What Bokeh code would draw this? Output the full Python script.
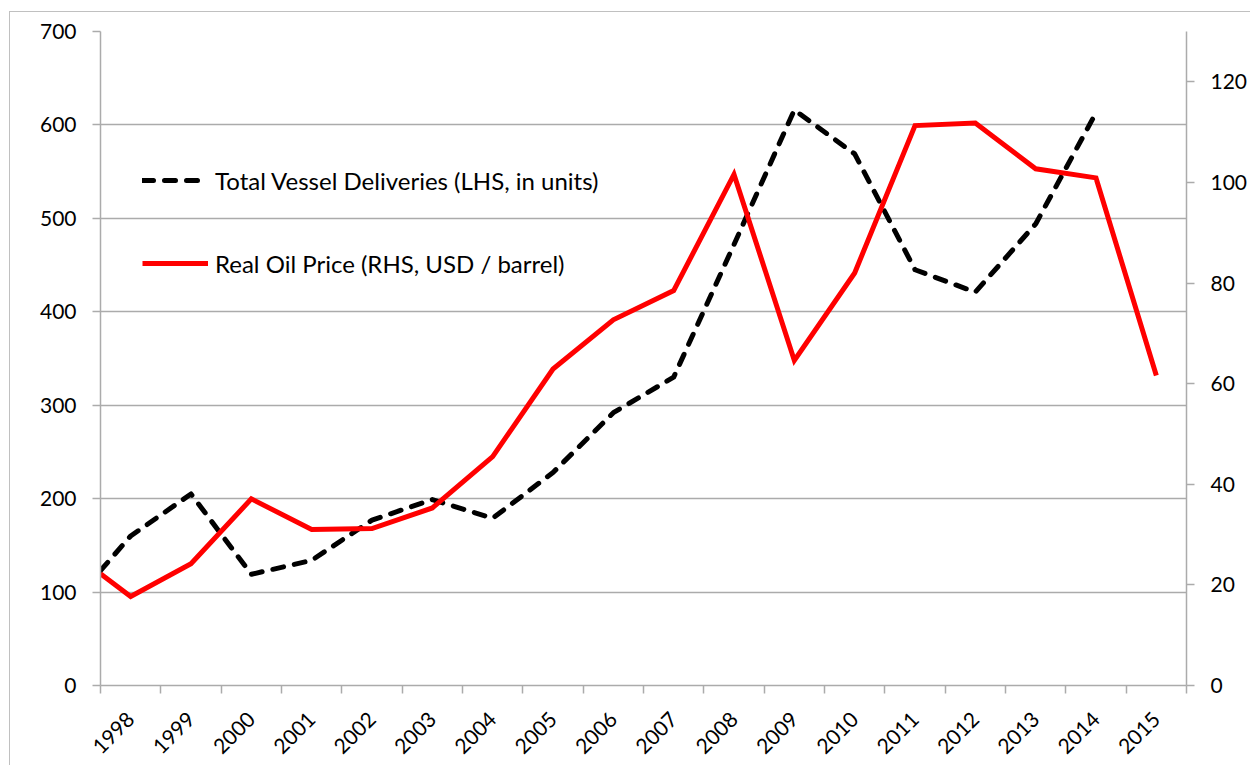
from bokeh.plotting import figure
from bokeh.layouts import column
from bokeh.models import Range1d, LinearAxis, FixedTicker, Legend, LegendItem
from bokeh.embed import file_html
from bokeh.resources import INLINE

# ---- data ----
years = list(range(1998, 2016))
# first value of each series sits on the left edge of the axis (start of 1998)
delivery_x = [1997.5] + list(range(1998, 2015))
deliveries = [123, 160, 205, 119, 134, 177, 199, 179, 228, 292, 330, 472,
              616, 569, 445, 421, 494, 613]
oil_x = [1997.5] + list(range(1998, 2016))
oil_price = [22.2, 17.7, 24.2, 37.1, 31.0, 31.2, 35.3, 45.5, 62.9, 72.7, 78.5,
             101.6, 64.6, 82.0, 111.3, 111.8, 102.7, 100.9, 61.6]
left_ticks = [0, 100, 200, 300, 400, 500, 600, 700]
right_ticks = [0, 20, 40, 60, 80, 100, 120]
label_deliveries = "Total Vessel Deliveries (LHS, in units)"
label_oil = "Real Oil Price (RHS, USD / barrel)"

FONT = "Lato"
GRAY = "#ababab"
FS = "21px"

p = figure(width=1240, height=753, output_backend="svg", toolbar_location=None,
           x_range=Range1d(1997.5, 2015.5), y_range=Range1d(0, 700),
           min_border_left=90, min_border_right=62, min_border_top=19,
           min_border_bottom=80)
p.extra_y_ranges = {"oil": Range1d(0, 130)}
p.outline_line_color = None
p.background_fill_color = "white"
p.border_fill_color = "white"

# x axis: boundary ticks as minor ticks, labels at category centres
xa = p.xaxis[0]
xa.ticker = FixedTicker(ticks=years, minor_ticks=[y - 0.5 for y in years] + [years[-1] + 0.5])
xa.major_tick_line_color = None
xa.major_tick_out = 8
xa.major_tick_in = 0
xa.minor_tick_in = 0
xa.minor_tick_out = 8
xa.minor_tick_line_color = GRAY
xa.minor_tick_line_width = 1.5
xa.axis_line_color = GRAY
xa.axis_line_width = 1.5
xa.major_label_orientation = 0.785398
xa.major_label_text_font = FONT
xa.major_label_text_font_size = FS
xa.major_label_text_color = "black"
xa.major_label_standoff = 22

ya = p.yaxis[0]
ya.ticker = FixedTicker(ticks=left_ticks)
ya.minor_tick_line_color = None
ya.major_tick_in = 0
ya.major_tick_out = 8
ya.major_tick_line_color = GRAY
ya.major_tick_line_width = 1.5
ya.axis_line_color = GRAY
ya.axis_line_width = 1.5
ya.major_label_text_font = FONT
ya.major_label_text_font_size = FS
ya.major_label_text_color = "black"
ya.major_label_standoff = 16

ra = LinearAxis(y_range_name="oil", ticker=FixedTicker(ticks=right_ticks))
ra.minor_tick_line_color = None
ra.major_tick_in = 0
ra.major_tick_out = 8
ra.major_tick_line_color = GRAY
ra.major_tick_line_width = 1.5
ra.axis_line_color = GRAY
ra.axis_line_width = 1.5
ra.major_label_text_font = FONT
ra.major_label_text_font_size = FS
ra.major_label_text_color = "black"
ra.major_label_standoff = 16
p.add_layout(ra, "right")

p.xgrid.visible = False
p.ygrid.grid_line_color = GRAY
p.ygrid.grid_line_width = 1.5

r_del = p.line(delivery_x, deliveries, line_color="black", line_width=5,
               line_dash="11 11", line_cap="round", line_join="round")
r_oil = p.line(oil_x, oil_price, line_color="#ff0000", line_width=5,
               line_join="miter", y_range_name="oil")

legend = Legend(items=[LegendItem(label=label_deliveries, renderers=[r_del]),
                       LegendItem(label=label_oil, renderers=[r_oil])],
                location=(42, 407), margin=0, padding=0,
                glyph_width=66, glyph_height=30, label_height=30,
                label_standoff=7, spacing=53,
                label_text_font=FONT, label_text_font_size="24px",
                label_text_color="black",
                border_line_color=None, background_fill_alpha=0)
p.add_layout(legend, "center")

# wrapper showing the outer chart-area border (top and left edges visible)
layout = column(p, margin=(11, 0, 0, 9),
                styles={"border-top": "1px solid #c0c0c0",
                        "border-left": "1px solid #c0c0c0"})

open("out.html", "w").write(file_html(layout, INLINE))
